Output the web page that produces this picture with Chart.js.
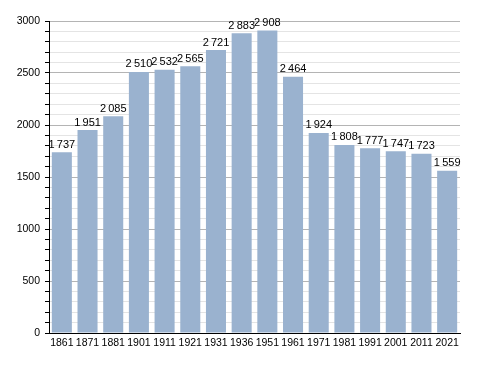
<!DOCTYPE html>
<html>
<head>
<meta charset="utf-8">
<script src="https://cdn.jsdelivr.net/npm/chart.js@4/dist/chart.umd.min.js"></script>
<style>
  body { margin: 0; background: #fff; }
  #wrap { width: 488px; height: 373px; }
</style>
</head>
<body>
<div id="wrap"><canvas id="popChart" width="488" height="373"></canvas></div>
<script>
// data
const years = ["1861", "1871", "1881", "1901", "1911", "1921", "1931", "1936",
  "1951", "1961", "1971", "1981", "1991", "2001", "2011", "2021"];
const population = [1737, 1951, 2085, 2510, 2532, 2565, 2721, 2883,
  2908, 2464, 1924, 1808, 1777, 1747, 1723, 1559];
const yMax = 3000;

// thin space thousands separator, like "1 737"
function fmt(v) {
  const s = String(v);
  return s.length > 3 ? s.slice(0, -3) + "\u2009" + s.slice(-3) : s;
}

// labels above the bars
const barLabels = {
  id: "barLabels",
  afterDatasetsDraw(chart) {
    const ctx = chart.ctx;
    const meta = chart.getDatasetMeta(0);
    ctx.save();
    ctx.font = "11px 'Liberation Sans', Arial, sans-serif";
    ctx.fillStyle = "#000";
    ctx.textAlign = "center";
    ctx.textBaseline = "bottom";
    meta.data.forEach((bar, i) => {
      ctx.fillText(fmt(population[i]), bar.x, bar.y - 2);
    });
    ctx.restore();
  },
};

const ctx = document.getElementById("popChart").getContext("2d");
new Chart(ctx, {
  type: "bar",
  data: {
    labels: years,
    datasets: [
      {
        data: population,
        backgroundColor: "rgb(154, 178, 207)",
        borderWidth: 0,
        barPercentage: 0.78,
        categoryPercentage: 1,
      },
    ],
  },
  options: {
    responsive: false,
    animation: false,
    layout: { padding: { top: 21, right: 28, left: 0, bottom: 0 } },
    plugins: {
      legend: { display: false },
      tooltip: { enabled: false },
    },
    scales: {
      x: {
        afterFit: (scale) => { scale.height = 40; },
        grid: { display: false, drawTicks: false },
        border: { color: "#000", width: 1 },
        ticks: {
          color: "#000",
          padding: 4,
          maxRotation: 0,
          autoSkip: false,
          font: { family: "'Liberation Sans', Arial, sans-serif", size: 10.5 },
        },
      },
      y: {
        min: 0,
        max: yMax,
        afterFit: (scale) => { scale.width = 49; },
        border: { color: "#000", width: 1 },
        grid: {
          color: (c) => (c.tick.value % 500 === 0 ? "#b4b4b4" : "#e4e4e4"),
          tickColor: "#000",
          tickLength: 4,
        },
        ticks: {
          stepSize: 100,
          color: "#000",
          padding: 5,
          autoSkip: false,
          font: { family: "'Liberation Sans', Arial, sans-serif", size: 10.5 },
          callback: (v) => (v % 500 === 0 ? v : ""),
        },
      },
    },
  },
  plugins: [barLabels],
});
</script>
</body>
</html>
